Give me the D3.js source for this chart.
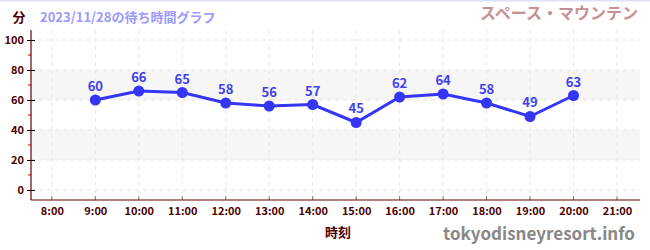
<!DOCTYPE html>
<html>
<head>
<meta charset="utf-8">
<script src="https://cdn.jsdelivr.net/npm/d3@7"></script>
<style>
  body { margin: 0; background: #fff; }
  text { font-family: "Noto Sans CJK JP", "Noto Sans", sans-serif; }
</style>
</head>
<body>
<svg id="chart"></svg>
<script>
// data
const hours = [9, 10, 11, 12, 13, 14, 15, 16, 17, 18, 19, 20];
const waits = [60, 66, 65, 58, 56, 57, 45, 62, 64, 58, 49, 63];
const xTicks = [8, 9, 10, 11, 12, 13, 14, 15, 16, 17, 18, 19, 20, 21];
const yTicks = [0, 20, 40, 60, 80, 100];
const yMinor = [10, 30, 50, 70, 90];
const bands = [[20, 40], [60, 80]];

const width = 650, height = 250;
const margin = { top: 30, right: 10, bottom: 50, left: 31 };
const innerW = width - margin.left - margin.right;
const innerH = height - margin.top - margin.bottom;

const svg = d3.select("#chart").attr("width", width).attr("height", height);

const x = d3.scaleLinear().domain([7.52, 21.53]).range([0, innerW]);
const y = d3.scaleLinear().domain([-6.7, 106.7]).range([innerH, 0]);

// top border
svg.append("line")
  .attr("x1", 0).attr("x2", width).attr("y1", 0.5).attr("y2", 0.5)
  .attr("stroke", "#e0e0f8").attr("stroke-width", 2);

const g = svg.append("g").attr("transform", `translate(${margin.left},${margin.top})`);

// alternating bands
g.selectAll(".band").data(bands).enter().append("rect")
  .attr("x", 0).attr("width", innerW)
  .attr("y", d => y(d[1])).attr("height", d => y(d[0]) - y(d[1]))
  .attr("fill", "#f6f6f6");

// grid
g.selectAll(".hgrid").data(yTicks).enter().append("line")
  .attr("x1", 0).attr("x2", innerW)
  .attr("y1", d => y(d)).attr("y2", d => y(d))
  .attr("stroke", "#e6e6e6").attr("stroke-dasharray", "4,4");
g.selectAll(".vgrid").data(xTicks).enter().append("line")
  .attr("x1", d => x(d)).attr("x2", d => x(d))
  .attr("y1", 0).attr("y2", innerH)
  .attr("stroke", "#e6e6e6").attr("stroke-dasharray", "4,4");

// y axis
const yAxis = d3.axisLeft(y).tickValues(yTicks).tickSize(4).tickPadding(3);
const yG = g.append("g").call(yAxis);
yG.select(".domain").remove();
yG.selectAll(".tick line").attr("x2", 4).attr("x1", -4).attr("stroke", "#000");
yG.selectAll("text").attr("fill", "#4d0000").style("font-size", "11px").style("font-weight", "bold");
g.selectAll(".ymin").data(yMinor).enter().append("line")
  .attr("x1", -3).attr("x2", 0)
  .attr("y1", d => y(d)).attr("y2", d => y(d))
  .attr("stroke", "#cc0000");
g.append("line").attr("x1", 0).attr("x2", 0).attr("y1", 0).attr("y2", innerH)
  .attr("stroke", "#660000").attr("stroke-width", 1.2);

// x axis
const xAxis = d3.axisBottom(x).tickValues(xTicks).tickFormat(d => d + ":00")
  .tickSize(0).tickPadding(7);
const xG = g.append("g").attr("transform", `translate(0,${innerH})`).call(xAxis);
xG.select(".domain").remove();
xG.selectAll("text").attr("fill", "#4d0000").style("font-size", "11px").style("font-weight", "bold");
g.selectAll(".xtick").data(xTicks).enter().append("line")
  .attr("x1", d => x(d)).attr("x2", d => x(d))
  .attr("y1", innerH - 4).attr("y2", innerH)
  .attr("stroke", "#777");
g.append("line").attr("x1", 0).attr("x2", innerW).attr("y1", innerH).attr("y2", innerH)
  .attr("stroke", "#660000").attr("stroke-width", 1.2);

// series
const pts = hours.map((h, i) => ({ h: h, v: waits[i] }));
g.append("path").datum(pts)
  .attr("d", d3.line().x(d => x(d.h)).y(d => y(d.v)))
  .attr("fill", "none").attr("stroke", "#3535f5").attr("stroke-width", 3);
g.selectAll(".dot").data(pts).enter().append("circle")
  .attr("cx", d => x(d.h)).attr("cy", d => y(d.v)).attr("r", 5.5)
  .attr("fill", "#3535f5");
g.selectAll(".lbl").data(pts).enter().append("text")
  .attr("x", d => x(d.h)).attr("y", d => y(d.v) - 9)
  .attr("text-anchor", "middle")
  .attr("fill", "#4040ee").style("font-size", "13px").style("font-weight", "bold")
  .text(d => d.v);

// titles
svg.append("text").attr("x", 19).attr("y", 22).attr("text-anchor", "middle")
  .attr("fill", "#4d0000").style("font-size", "13px").style("font-weight", "bold").text("分");
svg.append("text").attr("x", 40).attr("y", 22)
  .attr("fill", "#9999ff").style("font-size", "13px").style("font-weight", "bold")
  .text("2023/11/28の待ち時間グラフ");
svg.append("text").attr("x", 638).attr("y", 19).attr("text-anchor", "end")
  .attr("fill", "#c89090").style("font-size", "16px").style("font-weight", "bold")
  .text("スペース・マウンテン");
svg.append("text").attr("x", 338).attr("y", 237).attr("text-anchor", "middle")
  .attr("fill", "#4d0000").style("font-size", "13px").style("font-weight", "bold").text("時刻");
svg.append("text").attr("x", 635).attr("y", 240).attr("text-anchor", "end")
  .attr("fill", "#888").style("font-size", "17px").style("font-weight", "bold")
  .text("tokyodisneyresort.info");
</script>
</body>
</html>
